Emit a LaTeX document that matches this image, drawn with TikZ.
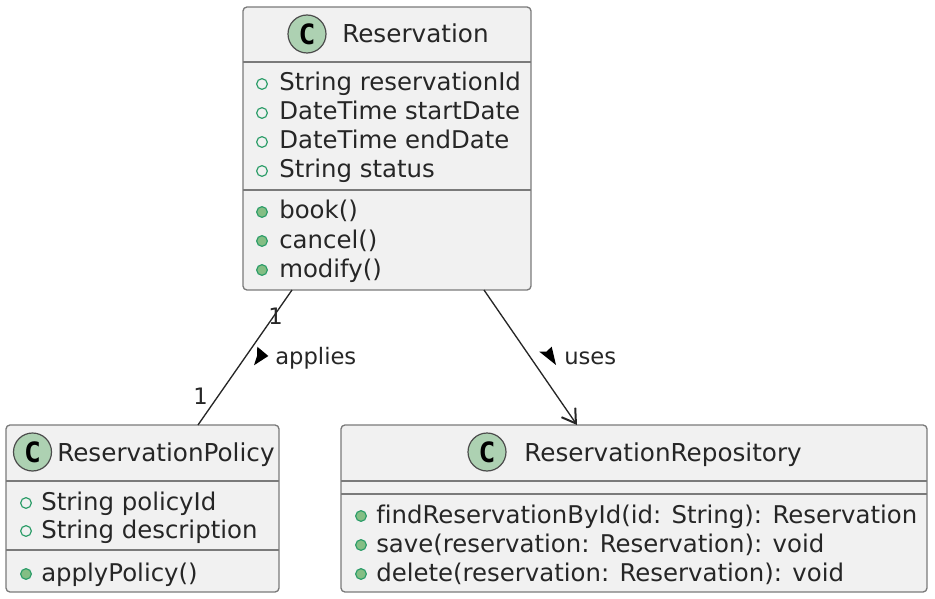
\documentclass[tikz,border=0pt]{standalone}
\usepackage{fontspec}
\setmainfont[Ligatures=CommonOff]{DejaVu Sans}
\newfontfamily\letterfont{DejaVu Sans Mono}
\usetikzlibrary{arrows.meta}
\definecolor{boxfill}{HTML}{F1F1F1}
\definecolor{boxline}{HTML}{7A7A7A}
\definecolor{spotfill}{HTML}{ADD1B2}
\definecolor{dotline}{HTML}{2E9E6A}
\definecolor{dotfill}{HTML}{84BE84}
\begin{document}
\begin{tikzpicture}[
    x=0.75pt, y=-0.75pt,
    % Style for the class boxes
    classbox/.style={rectangle, draw=boxline, fill=boxfill, line width=1pt, rounded corners=3pt, inner sep=0pt, outer sep=0pt},
    % Style for the round C badge
    spot/.style={circle, draw=black!70, fill=spotfill, line width=0.9pt, minimum size=28.5pt, inner sep=0pt, font=\letterfont\bfseries\fontsize{21}{21}\selectfont},
    title/.style={anchor=base west, inner sep=0pt, font=\fontsize{18.5}{22}\selectfont, text=black!85},
    member/.style={anchor=base west, inner sep=0pt, font=\fontsize{18.3}{22}\selectfont, text=black!85},
    attrdot/.style={circle, draw=dotline, line width=0.9pt, fill=boxfill, minimum size=8pt, inner sep=0pt},
    methoddot/.style={circle, draw=dotline, line width=0.9pt, fill=dotfill, minimum size=8pt, inner sep=0pt},
    tag/.style={anchor=base west, inner sep=0pt, font=\fontsize{17}{20}\selectfont, text=black!85},
    sep/.style={draw=boxline, line width=1pt},
    link/.style={draw=black!85, line width=1pt}
]
    \useasboundingbox (0,0) rectangle (935,599);

    % --- 1. Class boxes ---
    \node[classbox, minimum width=216pt, minimum height=212.25pt] (res) at (387,148.5) {};
    \node[classbox, minimum width=204.75pt, minimum height=125.25pt] (policy) at (142.5,508.5) {};
    \node[classbox, minimum width=439.5pt, minimum height=125.25pt] (repo) at (634,508.5) {};

    % --- 2. Separators ---
    \draw[sep] (res.west |- 0,62) -- (res.east |- 0,62);
    \draw[sep] (res.west |- 0,190) -- (res.east |- 0,190);
    \draw[sep] (policy.west |- 0,481) -- (policy.east |- 0,481);
    \draw[sep] (policy.west |- 0,550) -- (policy.east |- 0,550);
    \draw[sep] (repo.west |- 0,481) -- (repo.east |- 0,481);
    \draw[sep] (repo.west |- 0,494) -- (repo.east |- 0,494);

    % --- 3. Titles ---
    \node[spot] (resC) at (307,34) {C};
    \node[title] (resT) at (342,43) {Reservation};
    \node[spot] (policyC) at (32.5,452) {C};
    \node[title] (policyT) at (57,461) {ReservationPolicy};
    \node[spot] (repoC) at (487,452) {C};
    \node[title] (repoT) at (524,461) {ReservationRepository};

    % --- 4. Members ---
    \foreach \ypos/\txt in {91/String reservationId, 120/DateTime startDate, 149/DateTime endDate, 178/String status} {
        \node[attrdot] (resA\ypos) at (262,\ypos-7) {};
        \node[member] (resM\ypos) at (279,\ypos) {\txt};
    }
    \foreach \ypos/\txt in {219/book(), 248/cancel(), 277/modify()} {
        \node[methoddot] (resB\ypos) at (262,\ypos-7) {};
        \node[member] (resN\ypos) at (279,\ypos) {\txt};
    }
    \foreach \ypos/\txt in {510/String policyId, 538/String description} {
        \node[attrdot] (policyA\ypos) at (26,\ypos-7) {};
        \node[member] (policyM\ypos) at (41,\ypos) {\txt};
    }
    \node[methoddot] (policyB) at (26,574) {};
    \node[member] (policyN) at (41,581) {applyPolicy()};
    \foreach \ypos/\txt in {523/findReservationById(id: String): Reservation, 552/save(reservation: Reservation): void, 581/delete(reservation: Reservation): void} {
        \node[methoddot] (repoB\ypos) at (361,\ypos-7) {};
        \node[member] (repoN\ypos) at (376,\ypos) {\txt};
    }

    % --- 5. Connectors ---
    \draw[link] ([xshift=-71.25pt]res.south) -- ([xshift=41.6pt]policy.north);
    \draw[link, -{Straight Barb[length=10pt, width=12.5pt, line width=1.5pt]}] ([xshift=72.75pt]res.south) -- ([xshift=-42.75pt]repo.north);

    % --- 6. Connector labels ---
    \node[tag] (oneTop) at (268,324) {1};
    \node[tag] (oneLow) at (193,404) {1};
    \fill[black] (257.3,346.7) -- (268.3,356) -- (254,365.3) -- (257,356) -- cycle;
    \node[tag] (applies) at (275,364) {applies};
    \fill[black] (551.7,346.7) -- (546.5,351.5) -- (539.3,351.7) -- (556,365) -- cycle;
    \node[tag] (uses) at (564,364) {uses};

\end{tikzpicture}
\end{document}
